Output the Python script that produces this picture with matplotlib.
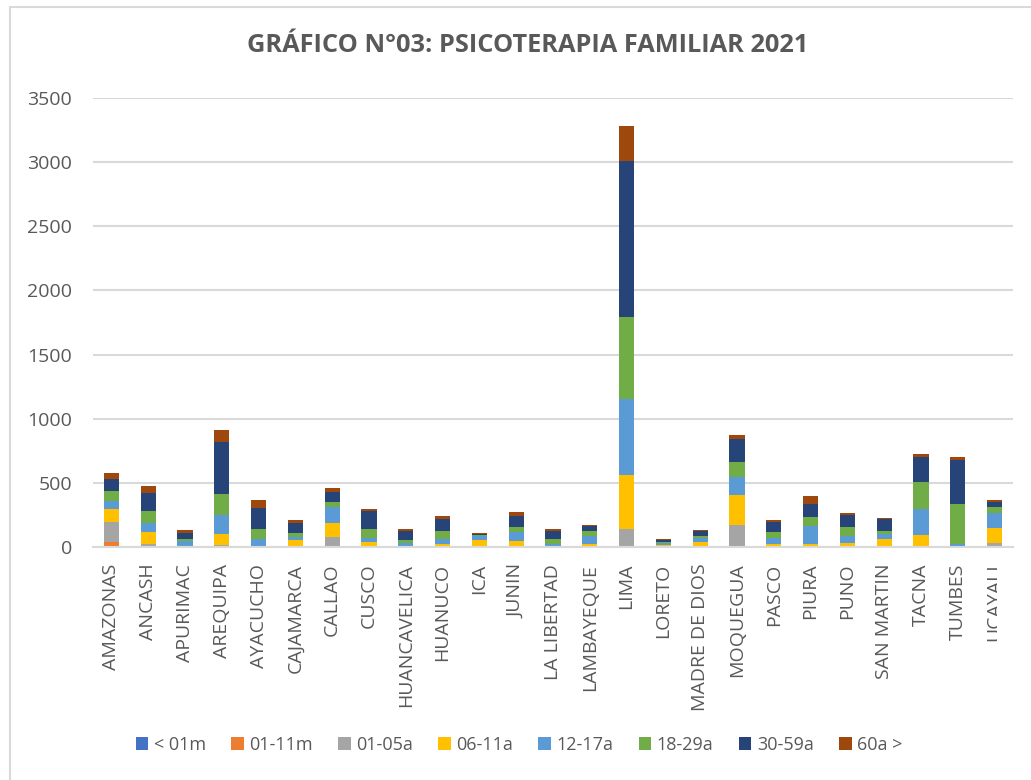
import matplotlib
matplotlib.use("Agg")
import matplotlib.pyplot as plt
import numpy as np
from matplotlib.patches import Rectangle

regiones = ["AMAZONAS", "ANCASH", "APURIMAC", "AREQUIPA", "AYACUCHO", "CAJAMARCA",
            "CALLAO", "CUSCO", "HUANCAVELICA", "HUANUCO", "ICA", "JUNIN",
            "LA LIBERTAD", "LAMBAYEQUE", "LIMA", "LORETO", "MADRE DE DIOS",
            "MOQUEGUA", "PASCO", "PIURA", "PUNO", "SAN MARTIN", "TACNA",
            "TUMBES", "UCAYALI"]

menor_01m = [0] * 25
m01_11 = [39, 0, 0, 0, 0, 0, 0, 0, 0, 0, 0, 0, 0, 0, 0, 0, 0, 0, 0, 0, 0, 0, 0, 0, 0]
a01_05 = [155, 23, 0, 16, 0, 10, 78, 10, 5, 0, 0, 0, 0, 0, 140, 0, 10, 171, 0, 0, 0, 10, 10, 0, 31]
a06_11 = [101, 93, 10, 88, 10, 47, 109, 28, 5, 23, 54, 47, 10, 26, 425, 16, 31, 233, 23, 23, 31, 52, 83, 0, 117]
a12_17 = [62, 70, 36, 145, 52, 21, 122, 31, 18, 41, 34, 70, 13, 60, 591, 13, 31, 145, 44, 140, 54, 36, 200, 26, 114]
a18_29 = [78, 91, 18, 161, 78, 31, 39, 73, 23, 62, 5, 39, 39, 39, 640, 13, 13, 111, 47, 67, 70, 26, 213, 311, 49]
a30_59 = [93, 145, 49, 410, 166, 78, 78, 135, 70, 93, 8, 88, 62, 39, 1211, 16, 36, 184, 83, 106, 93, 91, 192, 342, 36]
a60 = [47, 57, 21, 93, 57, 21, 31, 16, 21, 21, 5, 26, 16, 5, 272, 5, 8, 26, 13, 60, 18, 10, 26, 26, 16]

series = [menor_01m, m01_11, a01_05, a06_11, a12_17, a18_29, a30_59, a60]
etiquetas = ["< 01m", "01-11m", "01-05a", "06-11a", "12-17a", "18-29a", "30-59a", "60a >"]
colores = ["#4472C4", "#ED7D31", "#A5A5A5", "#FFC000", "#5B9BD5", "#70AD47", "#264478", "#9E480E"]

gris = "#595959"
plt.rcParams['font.family'] = ['Open Sans', 'DejaVu Sans']

fig = plt.figure(figsize=(10.31, 7.8), dpi=100)
ax = fig.add_axes([93 / 1031, 233 / 780, 920 / 1031, 449 / 780])

x = np.arange(len(regiones))
base = np.zeros(len(regiones))
for vals, lab, col in zip(series, etiquetas, colores):
    ax.bar(x, vals, 0.41, bottom=base, color=col, label=lab, zorder=3)
    base += np.array(vals)

ax.set_xlim(-0.5, len(regiones) - 0.5)
ax.set_ylim(0, 3500)
ax.set_yticks(range(0, 3501, 500))
ax.yaxis.grid(True, color="#D9D9D9", linewidth=1.5, zorder=0)
for s in ["top", "right", "left"]:
    ax.spines[s].set_visible(False)
ax.spines["bottom"].set_color("#D9D9D9")
ax.spines["bottom"].set_linewidth(1.5)
ax.spines["bottom"].set_zorder(4)

ax.set_xticks(x)
ax.set_xticklabels(regiones, rotation=90, fontsize=14, color=gris)
ax.tick_params(axis="x", length=0, pad=12)
ax.tick_params(axis="y", length=0, pad=15, labelsize=14, labelcolor=gris)

fig.text(527.5 / 1031, (780 - 46) / 780, "GRÁFICO N°03: PSICOTERAPIA FAMILIAR 2021",
         ha="center", va="center", fontsize=18.3, fontweight="bold", color=gris)

fig.legend(loc="center", bbox_to_anchor=(519 / 1031, 35 / 780), ncol=8, frameon=False,
           fontsize=13, labelcolor=gris, handlelength=0.7, handleheight=0.7,
           handletextpad=0.3, columnspacing=1.4)

# la etiqueta UCAYALI aparece cortada en el original
fig.patches.append(Rectangle((997 / 1031, 80 / 780), 34 / 1031, 148 / 780,
                             transform=fig.transFigure, facecolor="white",
                             edgecolor="none", zorder=10))

fig.patches.append(Rectangle((10 / 1031, -0.1), 1.2, (773 / 780) + 0.1, transform=fig.transFigure,
                             fill=False, edgecolor="#D9D9D9", linewidth=1.5))

fig.savefig("out.png", dpi=100)
